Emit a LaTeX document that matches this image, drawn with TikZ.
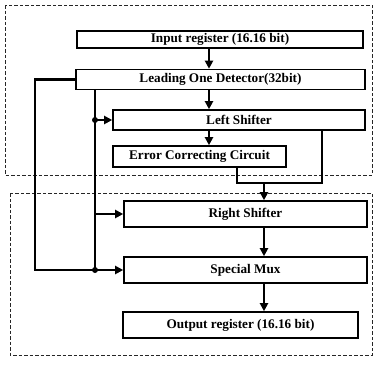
\documentclass[tikz,border=0pt]{standalone}
\usepackage{fontspec}
\setmainfont{Liberation Serif}
\usetikzlibrary{arrows.meta}
\begin{document}
\begin{tikzpicture}[x=1pt,y=-1pt,
 blk/.style={draw, line width=1.6pt, inner sep=0pt, font=\fontsize{13.2}{15}\selectfont\bfseries},
 conn/.style={line width=2.2pt, line join=miter},
 arr/.style={conn,-{Triangle[length=8pt,width=8pt]}},
 region/.style={dash pattern=on 3.5pt off 2pt, line width=1pt, draw=black!85},
 dotnode/.style={circle, fill, inner sep=0pt, minimum size=6pt}]
\useasboundingbox (0,0) rectangle (374,364);
\draw[region] (5,5) rectangle (372,175);
\draw[region] (10,193) rectangle (372,355);
\node[blk, minimum width=286pt, minimum height=17pt] (inp) at (220,39.5) {Input register (16.16 bit)};
\node[blk, minimum width=289pt, minimum height=20pt] (lod) at (220.5,79.5) {Leading One Detector(32bit)};
\node[blk, minimum width=252pt, minimum height=20pt] (ls) at (239,120) {Left Shifter};
\node[blk, minimum width=173pt, minimum height=21pt] (ecc) at (199.5,156.5) {Error Correcting Circuit};
\node[blk, minimum width=243pt, minimum height=26pt] (rs) at (245.5,214) {Right Shifter};
\node[blk, minimum width=243pt, minimum height=26pt] (sm) at (245.5,270) {Special Mux};
\node[blk, minimum width=235pt, minimum height=26pt] (out) at (240.5,325) {Output register (16.16 bit)};
\coordinate (ax) at (209,0);
\coordinate (bx) at (264,0);
\coordinate (lx) at (35,0);
\coordinate (mx) at (95,0);
\coordinate (ex) at (237,0);
\coordinate (rx) at (322,0);
\coordinate (my) at (0,183);
\draw[arr] (inp.south -| ax) -- (lod.north -| ax);
\draw[arr] (lod.south -| ax) -- (ls.north -| ax);
\draw[arr] (ls.south -| ax) -- (ecc.north -| ax);
\draw[conn] (ecc.south -| ex) -- (ex |- my) -- (rx |- my) -- (ls.south -| rx);
\draw[arr] (bx |- my) -- (rs.north -| bx);
\draw[arr] (rs.south -| bx) -- (sm.north -| bx);
\draw[arr] (sm.south -| bx) -- (out.north -| bx);
\draw[conn] (lod.west) -- (lod.west -| lx) -- (sm.west -| lx) -- (sm.west -| mx);
\draw[conn] (lod.south -| mx) -- (sm.west -| mx);
\draw[arr] (sm.west -| mx) -- (sm.west);
\draw[arr] (ls.west -| mx) -- (ls.west);
\draw[arr] (rs.west -| mx) -- (rs.west);
\node[dotnode] (d1) at (ls.west -| mx) {};
\node[dotnode] (d2) at (sm.west -| mx) {};
\end{tikzpicture}
\end{document}
